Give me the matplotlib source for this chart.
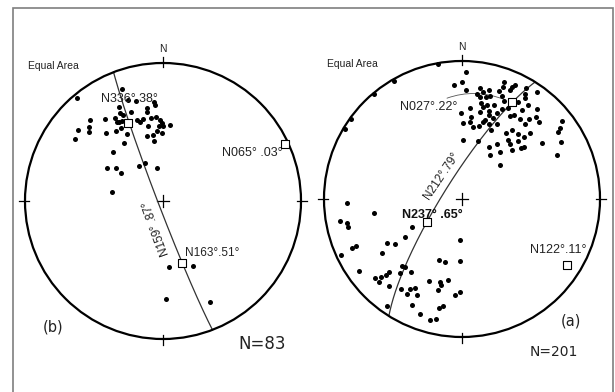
import numpy as np
import matplotlib
matplotlib.use("Agg")
import matplotlib.pyplot as plt
from matplotlib.patches import Circle, Rectangle

W, H, DPI = 615, 392, 100
R_PX = 138  # primitive circle radius in pixels

# ---- net (b): poles, principal axes and fitted plane ----
b_trend = [320, 340, 341, 345, 355, 355, 335, 350, 350, 340, 334, 335, 318, 325,
           330, 330, 333, 331, 342, 344, 346, 352, 355, 358, 359, 310, 315, 313,
           320, 326, 330, 332, 349, 357, 0, 5, 359, 355, 305, 346, 351, 351, 326,
           314, 300, 305, 304, 325, 335, 350, 280, 175, 155, 178, 155]
b_plunge = [3, 15, 24, 26, 29, 31, 26, 32, 35, 32, 30, 32, 22, 28,
            31, 34, 35, 35, 38, 40, 39, 39, 39, 41, 43, 21, 25, 28,
            36, 39, 39, 44, 44, 45, 45, 44, 49, 48, 23, 50, 50, 54, 48,
            48, 51, 56, 60, 65, 65, 70, 59, 50, 47, 30, 20]
b_eig_trend = [336, 65, 163]
b_eig_plunge = [38, 3, 51]
b_plane = (159, 87)
b_count = 83

# ---- net (a) ----
a_trend = [350, 330, 320, 306, 301,
           2, 0, 356, 2, 9, 11, 14, 20, 24, 19, 24, 20, 25, 30, 35, 31,
           8, 10, 13, 15, 21, 23, 30, 35, 32, 359, 5, 11, 13, 15, 19, 12,
           17, 22, 24, 27, 30, 32, 34, 40, 42, 40, 36, 1, 6, 9, 13, 15, 16,
           20, 21, 25, 23, 36, 40, 45, 1, 15, 34, 41, 38, 45, 46, 44, 41,
           46, 49, 50, 55, 27, 32, 33, 39, 48, 52, 54, 55, 60, 65, 6, 18,
           268, 261, 260, 258, 256, 241, 183, 240, 236, 236, 246, 246, 236,
           245, 201, 195, 182, 222, 220, 235, 215, 220, 225, 225, 228, 226,
           225, 220, 202, 195, 190, 194, 214, 210, 208, 210, 205, 195, 181,
           184, 205, 192, 190, 200, 195, 192, 215]
a_plunge = [1, 1, 1, 1, 1,
            9, 16, 18, 22, 20, 22, 20, 15, 12, 18, 15, 11, 10, 8, 6, 12,
            24, 26, 25, 24, 21, 24, 20, 18, 15, 38, 34, 30, 32, 30, 29, 36,
            34, 33, 29, 27, 31, 29, 23, 16, 21, 25, 29, 44, 43, 46, 45, 42, 40,
            42, 37, 40, 45, 38, 30, 22, 55, 54, 42, 38, 45, 37, 32, 41, 46,
            48, 43, 41, 30, 55, 51, 59, 54, 60, 9, 13, 16, 18, 25, 40, 36,
            18, 36, 11, 16, 16, 56, 66, 37, 41, 49, 17, 14, 31,
            4, 51, 51, 53, 35, 36, 10, 36, 31, 26, 23, 16, 20,
            16, 19, 36, 38, 40, 36, 22, 26, 28, 22, 24, 32, 33,
            31, 16, 20, 22, 12, 10, 12, 6]
a_eig_trend = [27, 237, 122]
a_eig_plunge = [22, 65, 11]
a_plane = (212, 79)
a_count = 201

LABEL_FONT = ["Liberation Sans", "DejaVu Sans"]
INK = "#222222"


def project(trend, plunge):
    """Lower-hemisphere equal-area (Schmidt) projection onto the unit circle."""
    t = np.radians(np.asarray(trend, float))
    p = np.radians(np.asarray(plunge, float))
    r = np.sqrt(2) * np.sin((np.pi / 2 - p) / 2)
    return r * np.sin(t), r * np.cos(t)


def great_circle(strike, dip, n=181):
    lam = np.radians(np.linspace(0, 180, n))
    s = np.radians(strike)
    dd = s + np.pi / 2
    d = np.radians(dip)
    east = np.cos(lam) * np.sin(s) + np.sin(lam) * np.sin(dd) * np.cos(d)
    north = np.cos(lam) * np.cos(s) + np.sin(lam) * np.cos(dd) * np.cos(d)
    down = np.clip(np.sin(lam) * np.sin(d), -1, 1)
    return project(np.degrees(np.arctan2(east, north)), np.degrees(np.arcsin(down)))


def net_axes(fig, cx, cy):
    half = 1.1 * R_PX
    ax = fig.add_axes([(cx - half) / W, (H - cy - half) / H, 2 * half / W, 2 * half / H])
    ax.set_xlim(-1.1, 1.1)
    ax.set_ylim(-1.1, 1.1)
    ax.set_aspect("equal")
    ax.axis("off")
    ax.add_patch(Circle((0, 0), 1, fill=False, lw=1.6, ec="black", zorder=3))
    for ang in np.radians([0, 90, 180, 270]):
        ax.plot([0.97 * np.sin(ang), 1.04 * np.sin(ang)],
                [0.97 * np.cos(ang), 1.04 * np.cos(ang)], color="black", lw=0.9)
    ax.plot([-0.04, 0.04], [0, 0], color="black", lw=0.9)
    ax.plot([0, 0], [-0.04, 0.04], color="black", lw=0.9)
    ax.text(0, 1.10, "N", ha="center", va="center", fontsize=7.5,
            family=LABEL_FONT, color=INK)
    ax.text(-0.975, 0.98, "Equal Area", ha="left", va="center", fontsize=7.5,
            family=LABEL_FONT, color=INK)
    return ax


def draw_net(ax, trend, plunge, eig_trend, eig_plunge, plane):
    gx, gy = great_circle(*plane)
    ax.plot(gx, gy, color="#333333", lw=0.9, zorder=2)
    px, py = project(trend, plunge)
    ax.scatter(px, py, s=13, color="black", lw=0, zorder=4, clip_on=False)
    ex, ey = project(eig_trend, eig_plunge)
    ax.scatter(ex, ey, s=40, marker="s", facecolor="white", edgecolor="black",
               lw=0.8, zorder=5, clip_on=False)


fig = plt.figure(figsize=(W / DPI, H / DPI), dpi=DPI)
fig.add_artist(Rectangle((13 / W, -0.1), 600 / W, 1.1 - 8 / H, transform=fig.transFigure,
                         fill=False, ec="#7f7f7f", lw=1.2))

# left net (b)
ax_b = net_axes(fig, 163, 201)
draw_net(ax_b, b_trend, b_plunge, b_eig_trend, b_eig_plunge, b_plane)
ax_b.text(-0.449, 0.739, f"N{b_eig_trend[0]:03d}°.{b_eig_plunge[0]:02d}°", ha="left",
          va="center", fontsize=9, family=LABEL_FONT, color=INK, zorder=6)
ax_b.text(0.870, 0.348, f"N{b_eig_trend[1]:03d}° .{b_eig_plunge[1]:02d}°", ha="right",
          va="center", fontsize=9, family=LABEL_FONT, color=INK)
ax_b.text(0.159, -0.377, f"N{b_eig_trend[2]:03d}°.{b_eig_plunge[2]:02d}°", ha="left",
          va="center", fontsize=8.5, family=LABEL_FONT, color=INK)
ax_b.text(-0.051, -0.196, f"N{b_plane[0]}° .{b_plane[1]}°", ha="center", va="center",
          rotation=110, fontsize=8.5, family=LABEL_FONT, color=INK)
ax_b.text(-0.870, -0.913, "(b)", ha="left", va="center", fontsize=10.5, color=INK)
ax_b.text(0.543, -1.036, f"N={b_count}", ha="left", va="center", fontsize=12, color=INK)

# right net (a)
ax_a = net_axes(fig, 462, 199)
draw_net(ax_a, a_trend, a_plunge, a_eig_trend, a_eig_plunge, a_plane)
ax_a.annotate(f"N{a_eig_trend[0]:03d}°.{a_eig_plunge[0]:02d}°", xy=(0.31, 0.72),
              xytext=(-0.03, 0.667), ha="right", va="center", fontsize=9,
              family=LABEL_FONT, color=INK,
              arrowprops=dict(arrowstyle="-", color="#555555", lw=0.6,
                              shrinkA=0, shrinkB=0,
                              connectionstyle="arc3,rad=-0.25"))
ax_a.text(-0.145, 0.167, f"N{a_plane[0]}°.{a_plane[1]}°", ha="center", va="center",
          rotation=56, fontsize=8.5, family=LABEL_FONT, color=INK)
ax_a.text(-0.435, -0.116, f"N{a_eig_trend[1]}° .{a_eig_plunge[1]}°", ha="left",
          va="center", fontsize=9, fontweight="bold", family=LABEL_FONT,
          color="#111111", zorder=3)
ax_a.text(0.493, -0.370, f"N{a_eig_trend[2]}°.{a_eig_plunge[2]}°", ha="left",
          va="center", fontsize=9, family=LABEL_FONT, color=INK)
ax_a.text(0.717, -0.884, "(a)", ha="left", va="center", fontsize=10.5, color=INK)
ax_a.text(0.493, -1.109, f"N={a_count}", ha="left", va="center", fontsize=10, color=INK)

fig.savefig("out.png", dpi=DPI, facecolor="white")
